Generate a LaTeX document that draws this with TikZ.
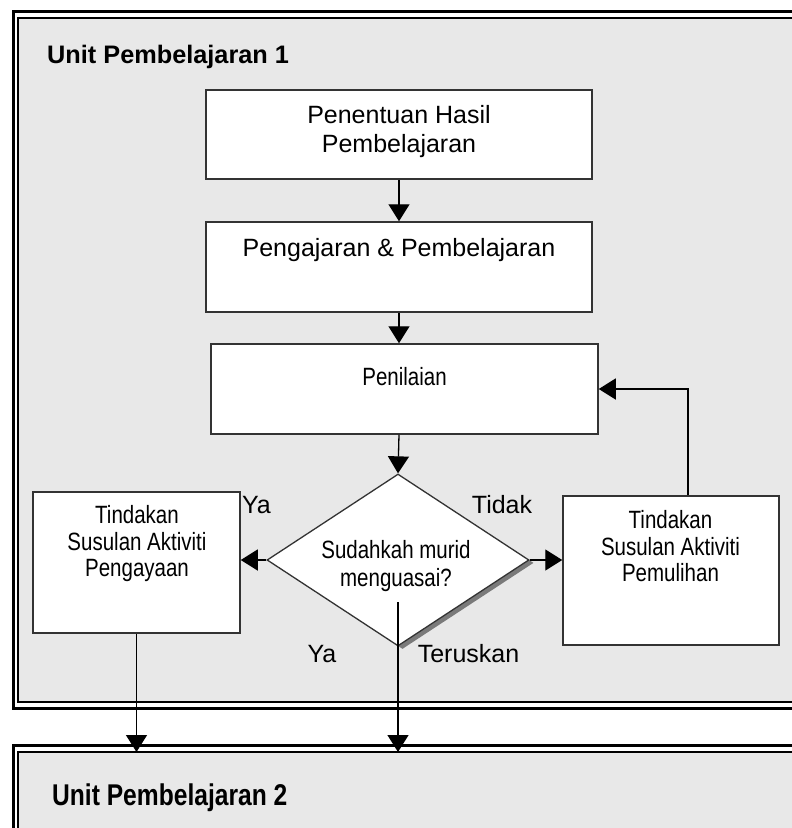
\documentclass[tikz,border=0pt]{standalone}
\usepackage{fontspec}
\setmainfont{Liberation Sans}
\newfontfamily\narrowfont[FakeStretch=0.82]{Liberation Sans}
\usetikzlibrary{arrows.meta,shapes.geometric}
\definecolor{bg}{HTML}{E8E8E8}
\definecolor{edge}{HTML}{333333}
\definecolor{shade}{HTML}{7A7A7A}
\begin{document}
\begin{tikzpicture}[x=1pt,y=-1pt,
  box/.style={draw=edge,line width=1.5pt,fill=white,inner sep=0pt},
  arr/.style={line width=1.3pt,-{Triangle[length=17pt,width=21pt]}},
  txt/.style={font=\fontsize{25}{29}\selectfont,align=center,inner sep=0pt},
  ntxt/.style={font=\narrowfont\fontsize{25}{26.5}\selectfont,align=center,inner sep=0pt},
  ttl/.style={font=\bfseries\fontsize{25.3}{29}\selectfont,inner sep=0pt},
  ttltwo/.style={font=\narrowfont\bfseries\fontsize{30}{34}\selectfont,inner sep=0pt}
]
\useasboundingbox (0,0) rectangle (792,828);
% frame 1
\draw[line width=3pt] (13.5,11.5) rectangle (820,708);
\draw[line width=2pt,fill=bg] (18,17.5) rectangle (820,701.5);
% frame 2
\draw[line width=3pt] (13.5,745.5) rectangle (820,860);
\draw[line width=2pt,fill=bg] (18,751.5) rectangle (820,860);
\coordinate (f2top) at (0,752);

\node[ttl,anchor=base west] (u1) at (47,63) {Unit Pembelajaran 1};
\node[ttltwo,anchor=base west] (u2) at (52,805) {Unit Pembelajaran 2};

% boxes
\node[box,minimum width=386pt,minimum height=89pt] (b1) at (399,134.5) {};
\node[box,minimum width=386pt,minimum height=90pt] (b2) at (399,267) {};
\node[box,minimum width=387pt,minimum height=90pt] (b3) at (404.5,389) {};
\node[box,minimum width=207pt,minimum height=141pt] (lb) at (136.5,562.5) {};
\node[box,minimum width=216pt,minimum height=149pt] (rb) at (671,570.5) {};

% diamond with shadow
\node[diamond,fill=shade,inner sep=0pt,minimum width=262pt,minimum height=172pt] (dsh) at (402.5,562.9) {};
\node[diamond,draw=edge,line width=1.3pt,fill=white,inner sep=0pt,minimum width=262pt,minimum height=172pt] (dia) at (398,560) {};

% texts
\node[txt] (t1) at (399,131.5) {Penentuan Hasil\\Pembelajaran};
\node[txt,anchor=base] (t2) at (399,256) {Pengajaran \& Pembelajaran};
\node[ntxt,anchor=base] (t3) at (404.5,385) {Penilaian};
\node[ntxt,font=\narrowfont\fontsize{25}{28}\selectfont] (t4) at (396,566) {Sudahkah murid\\menguasai?};
\node[ntxt] (t5) at (137,544) {Tindakan\\Susulan Aktiviti\\Pengayaan};
\node[ntxt] (t6) at (670.5,546.5) {Tindakan\\Susulan Aktiviti\\Pemulihan};

% labels
\node[txt,anchor=base] (ya1) at (256.5,513) {Ya};
\node[txt,anchor=base] (tidak) at (502,513) {Tidak};
\node[txt,anchor=base] (ya2) at (322,662) {Ya};
\node[txt,anchor=base] (terus) at (468.5,662) {Teruskan};

% connectors
\draw[arr] (b1.south) -- (b2.north);
\draw[arr] (b2.south) -- (b2.south |- b3.north);
\draw[arr] (b2.south |- b3.south) -- (dia.north);
\draw[arr] (dia.west) -- (dia.west -| lb.east);
\draw[arr] (dia.east) -- (dia.east -| rb.west);
\draw[arr] ([xshift=17pt]rb.north) |- (b3.east);
\coordinate (dmid) at (398,602);
\draw[arr] (dmid) -- (dmid |- f2top);
\draw[arr] (lb.south) -- (lb.south |- f2top);
\end{tikzpicture}
\end{document}
